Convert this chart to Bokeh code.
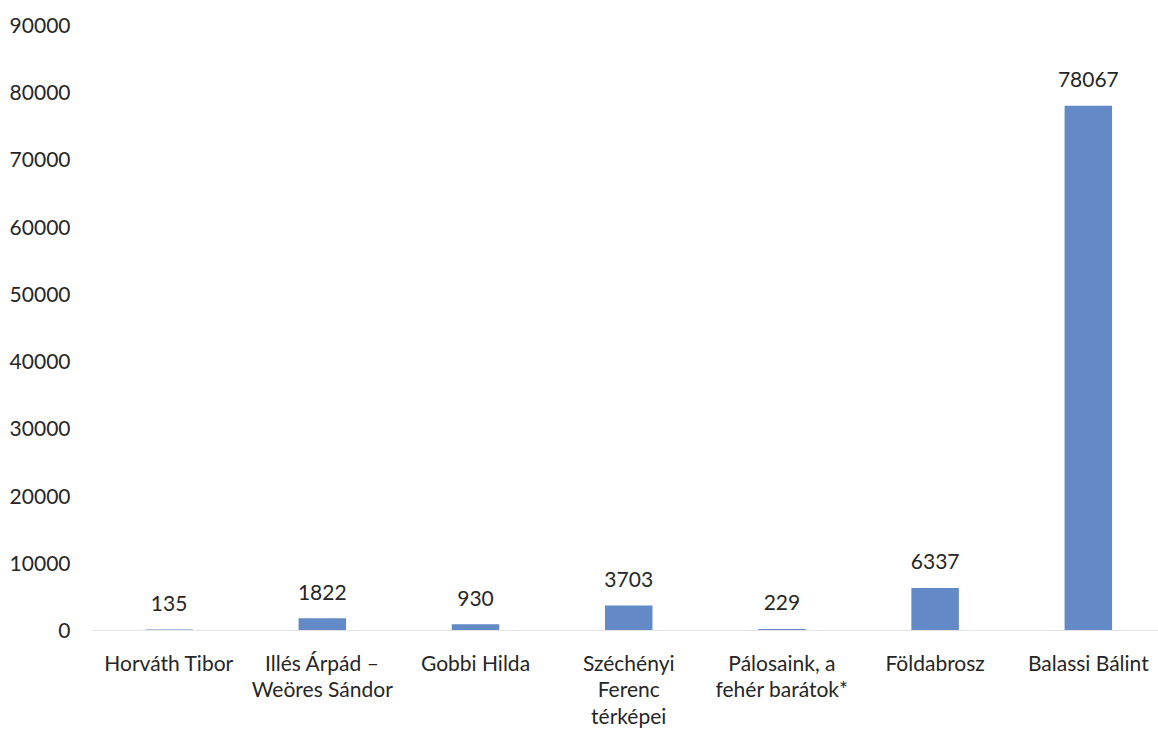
from bokeh.plotting import figure
from bokeh.models import ColumnDataSource, FixedTicker, Range1d, LabelSet
from bokeh.core.properties import value
from bokeh.embed import file_html
from bokeh.resources import INLINE

categories = ["Horváth Tibor", "Illés Árpád –\nWeöres Sándor", "Gobbi Hilda",
              "Széchényi\nFerenc\ntérképei", "Pálosaink, a\nfehér barátok*",
              "Földabrosz", "Balassi Bálint"]
values = [135, 1822, 930, 3703, 229, 6337, 78067]
y_ticks = [0, 10000, 20000, 30000, 40000, 50000, 60000, 70000, 80000, 90000]

FONT = "Lato"
FS = "21px"
TXT = "#262626"

idx = list(range(len(categories)))
src = ColumnDataSource(dict(x=idx, top=values, lab=[str(v) for v in values]))

p = figure(width=1158, height=731, output_backend="svg", toolbar_location=None,
           x_range=Range1d(-0.5, 6.458), y_range=Range1d(0, 90000),
           min_border_left=92, min_border_right=0, min_border_top=25, min_border_bottom=99)
p.outline_line_color = None
p.xgrid.grid_line_color = None
p.ygrid.grid_line_color = None

p.vbar(x="x", top="top", width=0.31, bottom=0, source=src,
       fill_color="#6389c6", line_color=None)

labels = LabelSet(x="x", y="top", text="lab", source=src, y_offset=26,
                  text_align="center", text_baseline="middle",
                  text_font=value(FONT), text_font_size=FS, text_color=TXT)
p.add_layout(labels)

p.yaxis.ticker = FixedTicker(ticks=y_ticks)
p.yaxis.axis_line_color = None
p.yaxis.major_tick_line_color = None
p.yaxis.minor_tick_line_color = None
p.yaxis.major_tick_out = 0
p.yaxis.minor_tick_out = 0
p.yaxis.major_label_standoff = 22
p.yaxis.major_label_text_font = FONT
p.yaxis.major_label_text_font_size = FS
p.yaxis.major_label_text_color = TXT

p.xaxis.ticker = FixedTicker(ticks=idx)
p.xaxis.major_label_overrides = {i: c for i, c in zip(idx, categories)}
p.xaxis.axis_line_color = "#e4e4e4"
p.xaxis.major_tick_line_color = None
p.xaxis.minor_tick_line_color = None
p.xaxis.major_tick_out = 0
p.xaxis.minor_tick_out = 0
p.xaxis.major_label_standoff = 19
p.xaxis.major_label_text_font = FONT
p.xaxis.major_label_text_font_size = FS
p.xaxis.major_label_text_color = TXT
p.xaxis.major_label_text_line_height = 1.07

open("out.html", "w").write(file_html(p, INLINE))
